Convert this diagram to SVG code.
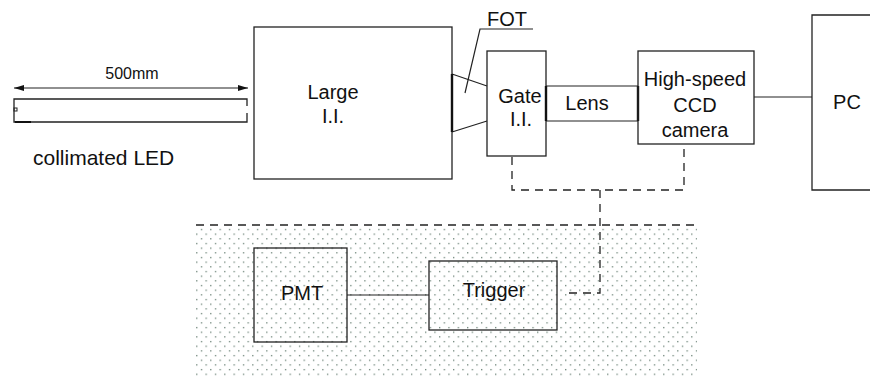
<svg xmlns="http://www.w3.org/2000/svg" width="870" height="377" viewBox="0 0 870 377">
<style>
text{font-family:"Liberation Sans",Arial,sans-serif;font-size:20px;fill:#111;text-anchor:middle}
.b{fill:none;stroke:#222;stroke-width:1.3}
.l{fill:none;stroke:#222;stroke-width:1.2}
.d{fill:none;stroke:#222;stroke-width:1.3;stroke-dasharray:8 6}
.j{stroke:#111;stroke-width:2.4}
</style>
<defs>
<pattern id="dots" width="9.34" height="9.34" patternUnits="userSpaceOnUse">
<rect x="0" y="0" width="1.3" height="1.3" fill="#6b8276"/>
<rect x="4.67" y="4.67" width="1.3" height="1.3" fill="#6b8276"/>
</pattern>
<marker id="ah" viewBox="0 0 10 6" refX="10" refY="3" markerWidth="10" markerHeight="6" markerUnits="userSpaceOnUse" orient="auto-start-reverse">
<path d="M0,0L10,3L0,6z" fill="#111"/>
</marker>
</defs>
<g id="trigger-area">
<rect x="196" y="226" width="501" height="151" fill="url(#dots)"/>
<line class="d" x1="196" y1="225" x2="697" y2="225"/>
</g>
<g id="led">
<path class="b" d="M247,106V99H14V122H247V113"/>
<rect x="14" y="108" width="3" height="3" fill="none" stroke="#222" stroke-width="1"/>
<line x1="15" y1="122" x2="31" y2="122" stroke="#111" stroke-width="2"/>
<line class="l" x1="14" y1="88" x2="248" y2="88" marker-start="url(#ah)" marker-end="url(#ah)"/>
<text x="132" y="79" style="font-size:16px">500mm</text>
<text x="33" y="165" style="text-anchor:start;font-size:21px">collimated LED</text>
</g>
<g id="large-ii">
<rect class="b" x="254" y="27" width="198" height="152"/>
<text x="333" y="99">Large</text>
<text x="333" y="123">I.I.</text>
</g>
<g id="fot">
<path class="l" d="M452,74L487,86M452,132L487,121"/>
<line class="j" x1="452" y1="74" x2="452" y2="132"/>
<path class="l" d="M465,93L480,29H533"/>
<text x="507" y="26">FOT</text>
</g>
<g id="gate-ii">
<rect class="b" x="487" y="51" width="59" height="105"/>
<text x="520" y="103">Gate</text>
<text x="521" y="126">I.I.</text>
</g>
<g id="lens">
<path class="l" d="M546,86H638M546,121H638"/>
<line class="j" x1="546" y1="86" x2="546" y2="121"/>
<line class="j" x1="638" y1="86" x2="638" y2="121"/>
<text x="587" y="110">Lens</text>
</g>
<g id="ccd">
<rect class="b" x="638" y="51" width="116" height="93"/>
<text x="695" y="86">High-speed</text>
<text x="695" y="112">CCD</text>
<text x="695" y="137">camera</text>
</g>
<g id="pc">
<path class="b" d="M870,15H812V190H870"/>
<text x="847" y="109">PC</text>
</g>
<g id="pmt">
<rect class="b" x="254" y="248" width="93" height="94"/>
<text x="302" y="300">PMT</text>
</g>
<g id="trigger">
<rect class="b" x="429" y="261" width="128" height="69"/>
<text x="494" y="297">Trigger</text>
</g>
<g id="connectors">
<line class="l" x1="754" y1="97" x2="812" y2="97"/>
<line class="l" x1="347" y1="295" x2="429" y2="295"/>
<path class="d" d="M512,157V190H684V145"/>
<path class="d" d="M600,190V293H564"/>
</g>
</svg>
